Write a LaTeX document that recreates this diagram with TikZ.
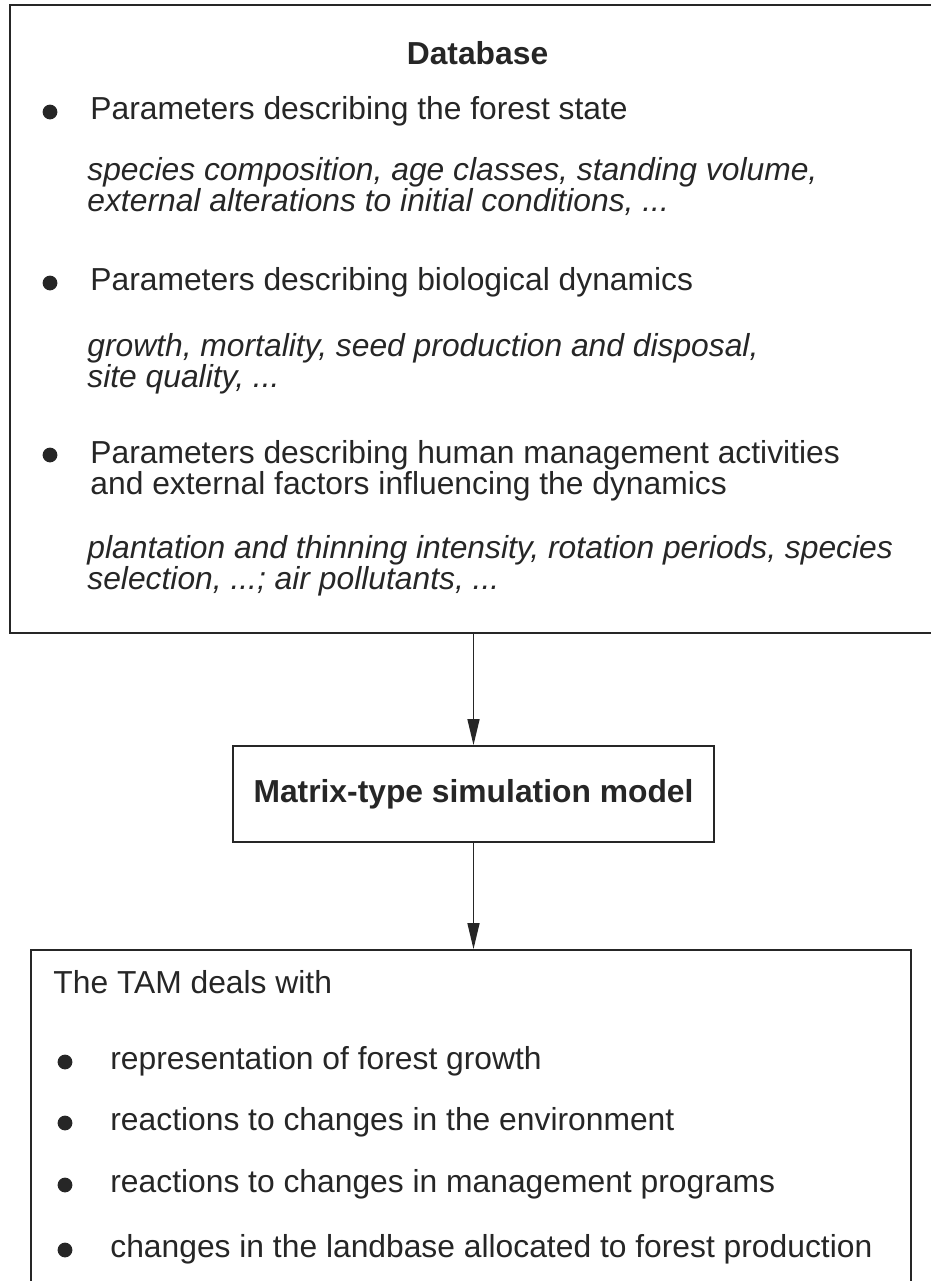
\documentclass[tikz,border=0pt]{standalone}
\usepackage{fontspec}
\setmainfont{Liberation Sans}
\usetikzlibrary{arrows.meta}
\definecolor{tamink}{RGB}{38,38,38}
\tikzset{
  frame/.style={draw=tamink, line width=0.9pt, inner sep=0pt},
  dot/.style={circle, fill=tamink, inner sep=0pt, minimum size=7.4pt},
  txt/.style={anchor=base west, inner sep=0pt, align=left, text=tamink,
    font=\fontsize{15.9}{15.5}\selectfont},
  ital/.style={txt, font=\fontsize{15.9}{15.5}\selectfont\itshape},
  head/.style={anchor=base, inner sep=0pt, text=tamink,
    font=\fontsize{15.9}{15.5}\selectfont\bfseries},
  arr/.style={-{Triangle[length=13pt,width=6pt]}, draw=tamink, line width=0.75pt}
}
\begin{document}
\begin{tikzpicture}[x=0.5pt,y=-0.5pt]
  \useasboundingbox (0,0) rectangle (931,1281);
  \clip (0,0) rectangle (931,1281);
  % boxes
  \node[frame, line width=1.1pt, minimum width=467.5pt, minimum height=314pt] (db) at (477.5,319) {};
  \node[frame, minimum width=240.5pt, minimum height=48pt,
    font=\fontsize{15.9}{15.5}\selectfont\bfseries, text=tamink] (model) at (473.5,794)
    {Matrix-type simulation model};
  \node[frame, minimum width=440pt, minimum height=175pt] (tam) at (471,1125) {};
  % database contents (multi-line nodes sit on their last line)
  \node[head] (dbhead) at (db.center |- 0,64) {Database};
  \node[dot] (d1) at (50,112) {};
  \node[txt] (p1) at (90,119) {Parameters describing the forest state};
  \node[ital] (e1) at (87,211) {species composition, age classes, standing volume,\\
    external alterations to initial conditions, ...};
  \node[dot] (d2) at (50,283) {};
  \node[txt] (p2) at (90,290) {Parameters describing biological dynamics};
  \node[ital] (e2) at (87,387) {growth, mortality, seed production and disposal,\\
    site quality, ...};
  \node[dot] (d3) at (50,455) {};
  \node[txt] (p3) at (90,494) {Parameters describing human management activities\\
    and external factors influencing the dynamics};
  \node[ital] (e3) at (87,589) {plantation and thinning intensity, rotation periods, species\\
    selection, ...; air pollutants, ...};
  % TAM contents
  \node[txt] (tamhead) at (53,993) {The TAM deals with};
  \node[dot] (t1) at (65,1062) {};
  \node[txt] (r1) at (110,1069) {representation of forest growth};
  \node[dot] (t2) at (65,1123) {};
  \node[txt] (r2) at (110,1130) {reactions to changes in the environment};
  \node[dot] (t3) at (65,1185) {};
  \node[txt] (r3) at (110,1192) {reactions to changes in management programs};
  \node[dot] (t4) at (65,1250) {};
  \node[txt] (r4) at (110,1257) {changes in the landbase allocated to forest production};
  % flow
  \draw[arr] (db.south -| model.north) -- (model.north);
  \draw[arr] (model.south) -- (tam.north -| model.south);
\end{tikzpicture}
\end{document}
